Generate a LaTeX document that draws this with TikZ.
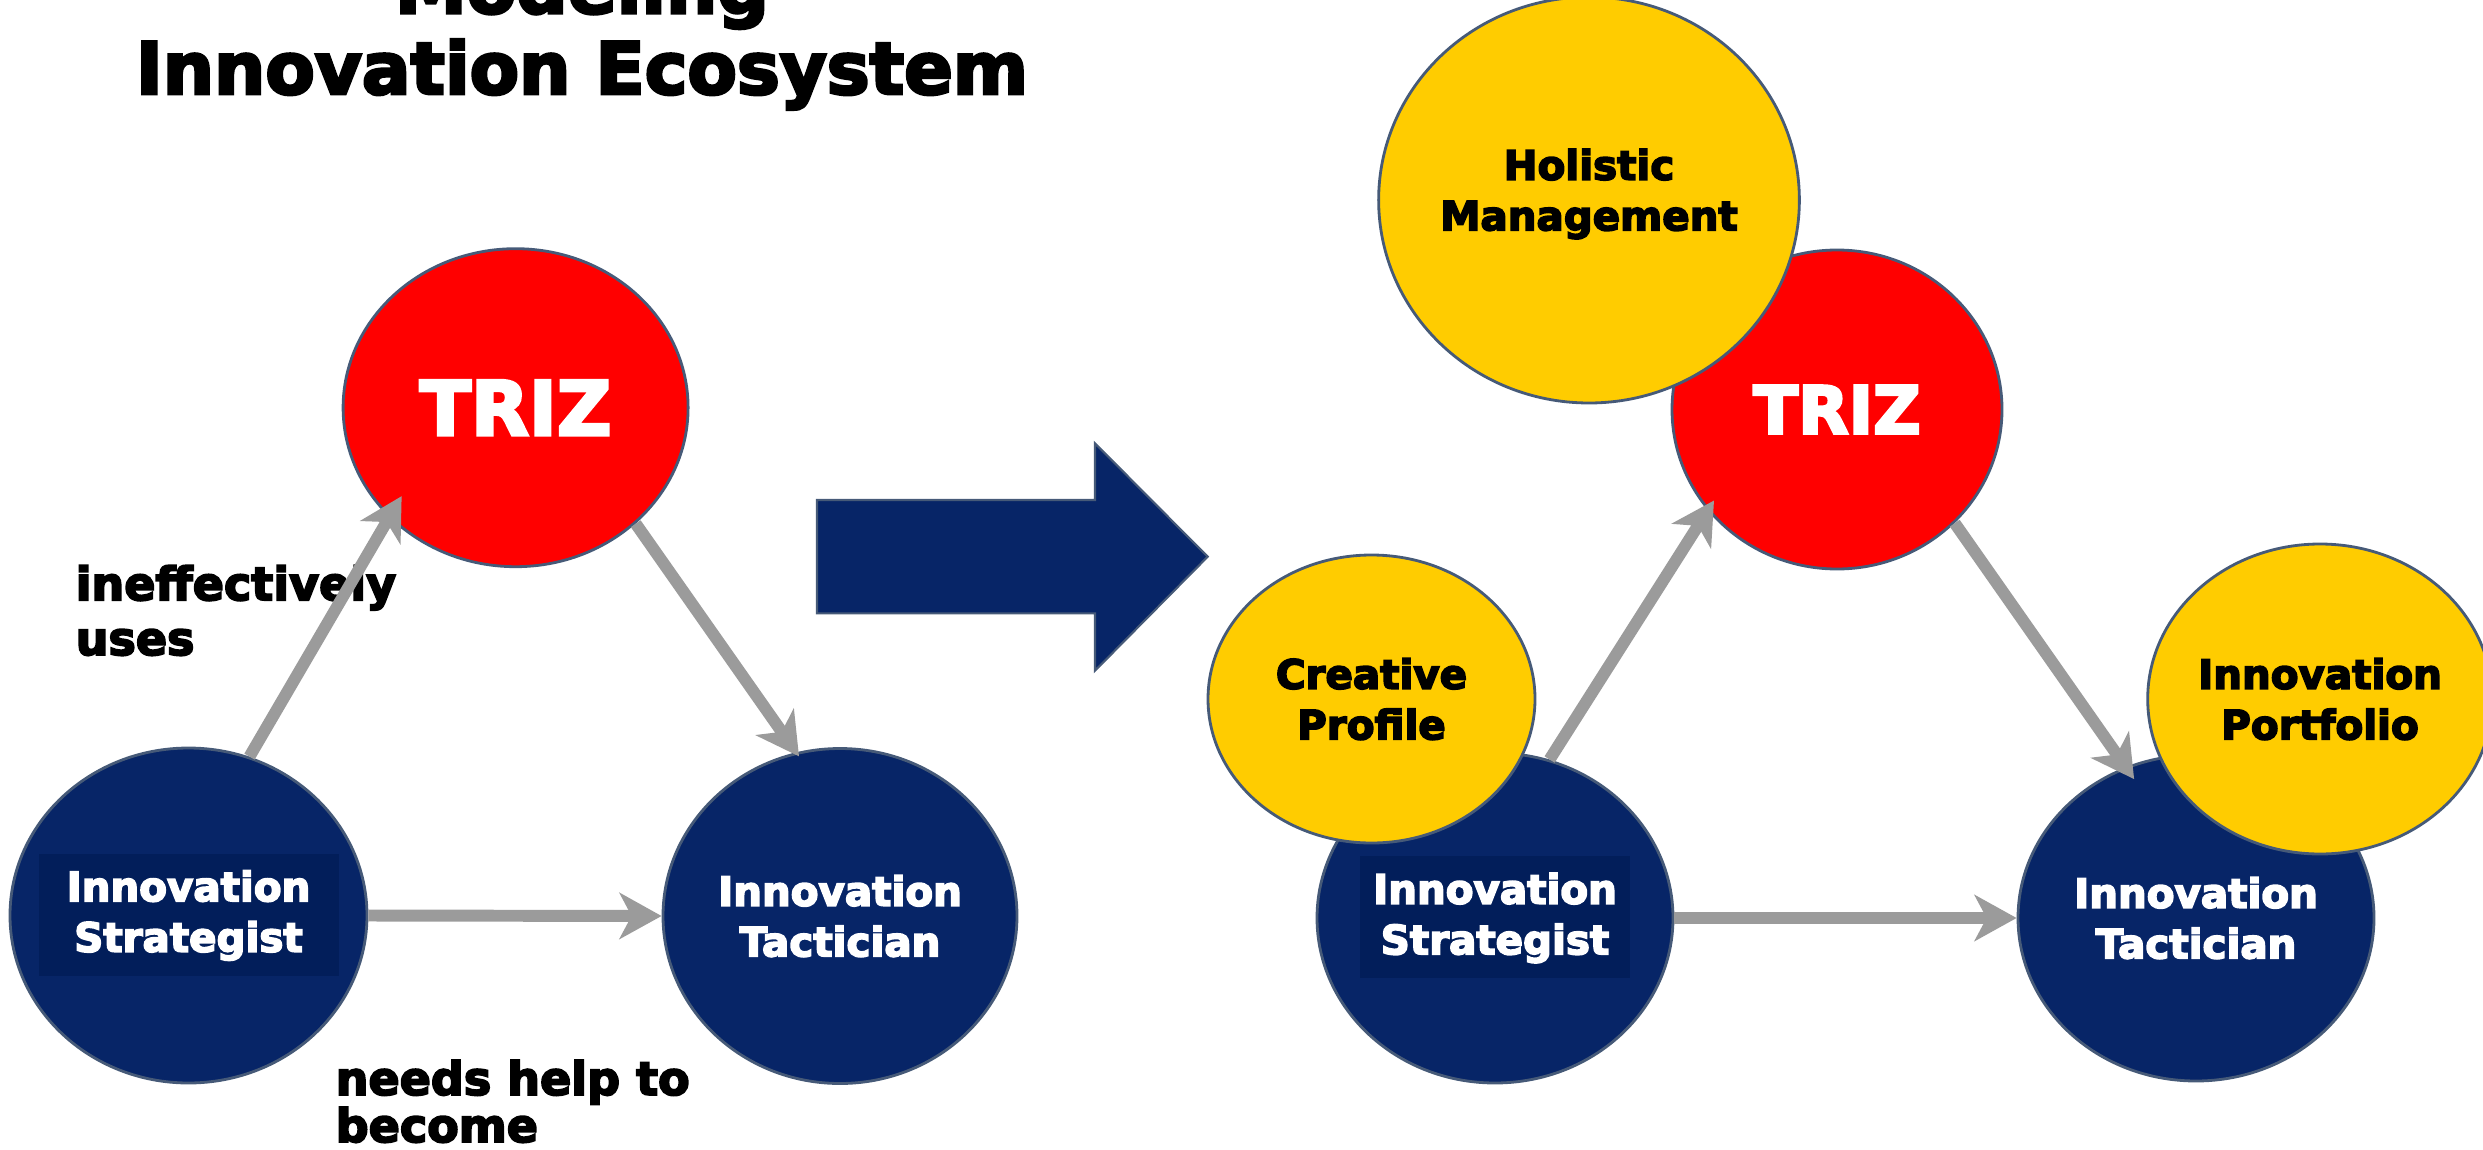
\documentclass[tikz,border=0pt]{standalone}
\usepackage{fontspec}
\setmainfont{DejaVu Sans}
\newfontfamily\blackfont{DejaVu Sans Bold}[FakeBold=4]
\usetikzlibrary{arrows.meta,shapes.geometric,positioning}
\definecolor{navy}{RGB}{7,37,103}
\definecolor{navybox}{RGB}{2,30,90}
\definecolor{trizred}{RGB}{255,0,0}
\definecolor{gold}{RGB}{255,204,0}
\definecolor{rim}{RGB}{70,90,120}
\definecolor{linkgray}{RGB}{155,155,155}

\begin{document}
\begin{tikzpicture}[>={Stealth[length=4.2mm,width=4.6mm,inset=1.2mm]},
    ball/.style={ellipse, draw=rim, line width=0.8pt, inner sep=0pt, align=center,
        font=\blackfont\fontsize{11.5}{14.4}\selectfont},
    blue ball/.style={ball, fill=navy, text=white},
    gold ball/.style={ball, fill=gold, text=black},
    red ball/.style={ball, fill=trizred, text=white},
    textbox/.style={path picture={\fill[navybox] ([shift={(-#1,-0.6)}]path picture bounding box.center)
        rectangle ([shift={(#1,0.62)}]path picture bounding box.center);}},
    link/.style={->, draw=linkgray, line width=3.4pt},
    caption/.style={inner sep=0pt, align=left, font=\blackfont\fontsize{13.1}{#1}\selectfont},
    heading/.style={inner sep=0pt, anchor=base, font=\blackfont\fontsize{20.5}{24}\selectfont}]
    \useasboundingbox (0,0) rectangle (24.83,-11.49);

    % title
    \node[heading] (ttl1) at (5.82,-0.133) {Modeling};
    \node[heading] (ttl2) at (5.82,-0.94) {Innovation Ecosystem};

    % today
    \node[red ball, minimum width=3.45cm, minimum height=3.18cm,
        font=\blackfont\fontsize{21.4}{26}\selectfont] (triz1) at (5.156,-4.077) {TRIZ};
    \node[blue ball, textbox=1.5, minimum width=3.57cm, minimum height=3.35cm] (strat1) at (1.885,-9.155) {Innovation\\Strategist};
    \node[blue ball, minimum width=3.54cm, minimum height=3.35cm] (tact1) at (8.40,-9.16) {Innovation\\Tactician};

    \node[caption=15.6, anchor=base west] (uses) at (0.75,-6.55) {ineffectively\\uses};
    \node[caption=13.4, anchor=base west] (become) at (3.35,-11.42) {needs help to\\become};

    \path (strat1.69) edge[link, shorten >=-0.25cm] (triz1.221)
          (triz1.316) edge[link, shorten >=-0.05cm] (tact1.105)
          (strat1.east) edge[link] (tact1.west);

    % big arrow
    \fill[navy, draw=rim, line width=0.6pt] (8.17,-5.0) -- (10.95,-5.0) -- (10.95,-4.433) -- (12.077,-5.567)
        -- (10.95,-6.707) -- (10.95,-6.133) -- (8.17,-6.133) -- cycle;

    % ecosystem
    \node[red ball, minimum width=3.30cm, minimum height=3.19cm,
        font=\blackfont\fontsize{18.7}{22}\selectfont] (triz2) at (18.37,-4.095) {TRIZ};
    \node[blue ball, textbox=1.35, minimum width=3.56cm, minimum height=3.30cm] (strat2) at (14.95,-9.18) {Innovation\\Strategist};
    \node[blue ball, minimum width=3.56cm, minimum height=3.26cm] (tact2) at (21.96,-9.18) {Innovation\\Tactician};
    \node[gold ball, minimum width=4.08cm, minimum height=4.06cm] (holis) at (15.89,-2.00) {Holistic\\Management\\[-0.3cm]};
    \node[gold ball, minimum width=3.27cm, minimum height=2.88cm] (creat) at (13.715,-6.99) {Creative\\Profile};
    \node[gold ball, minimum width=3.21cm, minimum height=3.10cm] (portf) at (23.20,-6.99) {Innovation\\Portfolio};

    \path (strat2.71) edge[link, shorten >=-0.12cm] (triz2.218)
          (triz2.316) edge[link, shorten >=-0.15cm] (tact2.115)
          (strat2.east) edge[link] (tact2.west);
\end{tikzpicture}
\end{document}
